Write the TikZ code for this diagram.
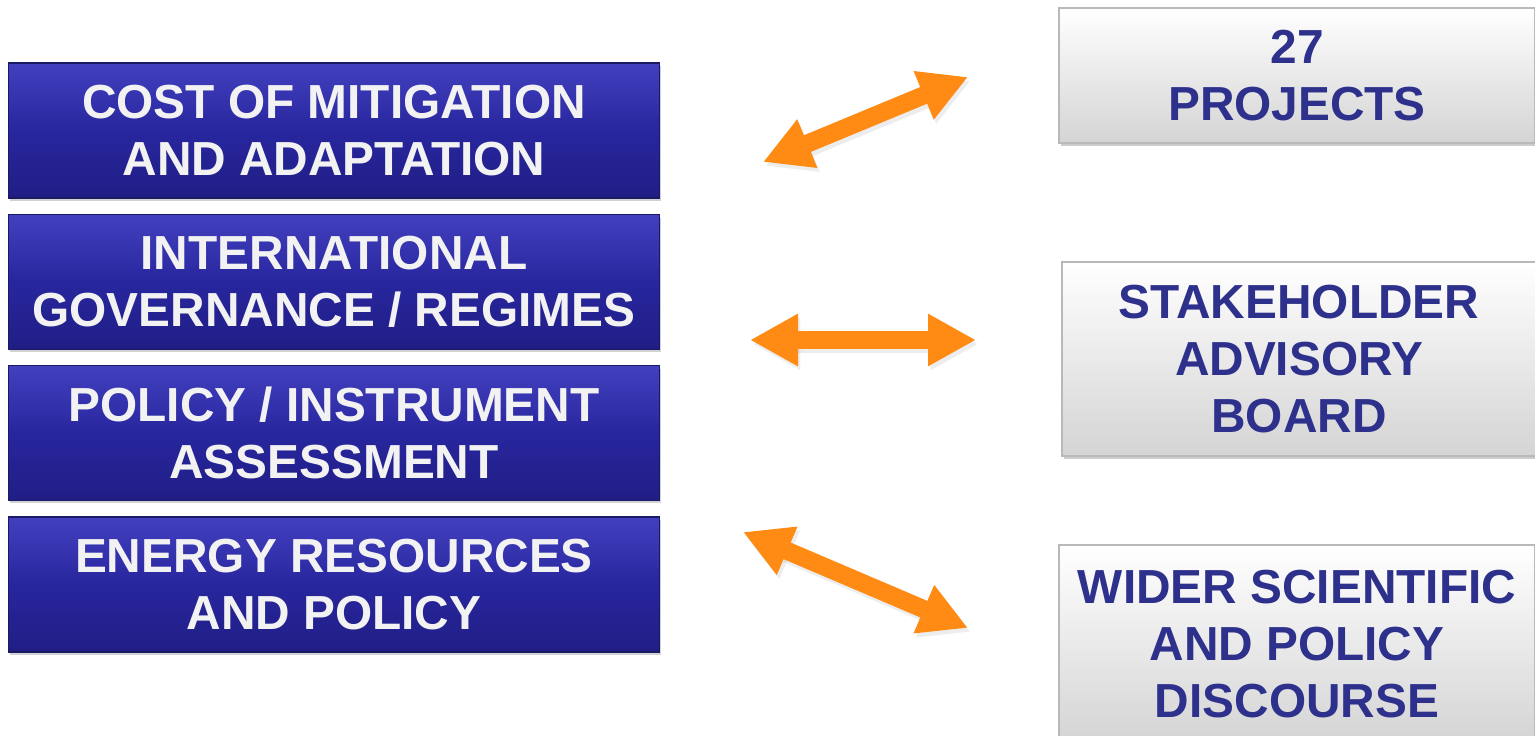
\documentclass[tikz,border=0pt]{standalone}
\usepackage{fontspec}
\setmainfont{Liberation Sans}
\usetikzlibrary{arrows.meta,shadows}
\definecolor{bluetop}{RGB}{66,64,190}
\definecolor{bluemid}{RGB}{40,38,158}
\definecolor{bluebot}{RGB}{32,30,132}
\definecolor{blueedge}{RGB}{25,25,100}
\definecolor{navytext}{RGB}{46,49,140}
\definecolor{whitetext}{RGB}{242,242,242}
\definecolor{greybot}{RGB}{212,212,212}
\definecolor{greyedge}{RGB}{185,185,185}
\definecolor{orangearr}{RGB}{255,138,20}
\tikzset{
  txt/.style={font=\bfseries\fontsize{27.2}{32.3}\selectfont, align=center, inner sep=0pt},
  bluebox/.style={txt, rectangle, minimum width=13.04cm, minimum height=2.7cm,
    top color=bluetop, bottom color=bluebot, middle color=bluemid,
    draw=blueedge, line width=0.6pt, text=whitetext,
    drop shadow={shadow xshift=0.03cm, shadow yshift=-0.06cm, opacity=0.35}},
  greybox/.style={txt, rectangle, top color=white, bottom color=greybot,
    draw=greyedge, line width=0.8pt, text=navytext,
    drop shadow={shadow xshift=0.03cm, shadow yshift=-0.07cm, opacity=0.4}},
  arr/.style={draw=orangearr, line width=0.36cm,
    {Triangle[width=0.98cm,length=0.96cm]}-{Triangle[width=0.98cm,length=0.96cm]}},
  arrshadow/.style={draw=black, opacity=0.07, line width=0.36cm,
    {Triangle[width=0.98cm,length=0.96cm]}-{Triangle[width=0.98cm,length=0.96cm]},
    transform canvas={xshift=0.05cm, yshift=-0.08cm}}
}
\begin{document}
\begin{tikzpicture}[x=0.02cm,y=-0.02cm]
\useasboundingbox (0,0) rectangle (1535,736);
\clip (0,0) rectangle (1535,736);
\fill[white] (0,0) rectangle (1535,736);

\node[bluebox] (b1) at (334,130.5) {COST OF MITIGATION\\AND ADAPTATION};
\node[bluebox] (b2) at (334,282) {INTERNATIONAL\\GOVERNANCE / REGIMES};
\node[bluebox] (b3) at (334,433) {POLICY / INSTRUMENT\\ASSESSMENT};
\node[bluebox] (b4) at (334,584.5) {ENERGY RESOURCES\\AND POLICY};

\node[greybox, minimum width=9.52cm, minimum height=2.7cm] (r1) at (1297,75.5) {27\\PROJECTS};
\node[greybox, minimum width=9.48cm, minimum height=3.88cm] (r2) at (1299,359) {STAKEHOLDER\\ADVISORY\\BOARD};
\node[greybox, minimum width=9.52cm, minimum height=3.96cm] (r3) at (1297,644) {WIDER SCIENTIFIC\\AND POLICY\\DISCOURSE};

\coordinate (a1l) at (763,162);
\coordinate (a1r) at (968,77);
\coordinate (a2l) at (750,340);
\coordinate (a2r) at (976,340);
\coordinate (a3l) at (743,532);
\coordinate (a3r) at (968,628);

\foreach \p/\q in {a1l/a1r,a2l/a2r,a3l/a3r}{
  \draw[arrshadow] (\p) -- (\q);
  \draw[arr] (\p) -- (\q);
}
\end{tikzpicture}
\end{document}
